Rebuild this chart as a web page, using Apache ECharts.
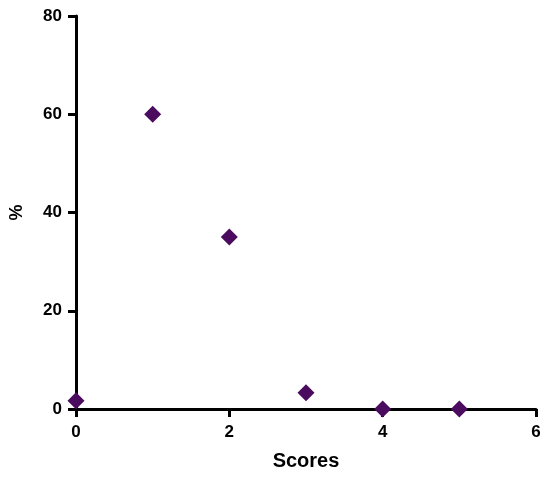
<!DOCTYPE html>
<html>
<head>
<meta charset="utf-8">
<script src="https://cdn.jsdelivr.net/npm/echarts@6/dist/echarts.min.js"></script>
<style>
  html, body { margin: 0; padding: 0; background: #fff; }
  #chart { width: 550px; height: 478px; }
</style>
</head>
<body>
<div id="chart"></div>
<script>
const scores = [0, 1, 2, 3, 4, 5]
const percents = [1.7, 60, 35, 3.3, 0, 0]
const xTicks = [0, 2, 4, 6]
const yTicks = [0, 20, 40, 60, 80]

const chart = echarts.init(document.getElementById('chart'))
const axisLine = { lineStyle: { color: '#000', width: 3 } }
const label = { color: '#000', fontSize: 17, fontWeight: 'bold', fontFamily: 'Liberation Sans, Arial' }

chart.setOption({
  animation: false,
  grid: { left: 76, right: 14, top: 16, bottom: 69, outerBoundsMode: 'none', containLabel: false },
  xAxis: {
    type: 'value',
    min: xTicks[0],
    max: xTicks[xTicks.length - 1],
    interval: 2,
    name: 'Scores',
    nameLocation: 'middle',
    nameGap: 42,
    nameTextStyle: { color: '#000', fontSize: 20, fontWeight: 'bold', fontFamily: 'Liberation Sans, Arial' },
    axisLine: axisLine,
    axisTick: { show: true, length: 8, lineStyle: { color: '#000', width: 3 } },
    axisLabel: Object.assign({ margin: 15 }, label),
    splitLine: { show: false }
  },
  yAxis: {
    type: 'value',
    min: yTicks[0],
    max: yTicks[yTicks.length - 1],
    interval: 20,
    name: '%',
    nameLocation: 'middle',
    nameGap: 50,
    nameRotate: 90,
    nameTextStyle: { color: '#000', fontSize: 18, fontWeight: 'bold', fontFamily: 'Liberation Sans, Arial' },
    axisLine: Object.assign({ show: true }, axisLine),
    axisTick: { show: true, length: 8, lineStyle: { color: '#000', width: 3 } },
    axisLabel: Object.assign({ margin: 14 }, label),
    splitLine: { show: false }
  },
  series: [{
    type: 'scatter',
    symbol: 'diamond',
    symbolSize: 17,
    itemStyle: { color: '#4b0b5e', opacity: 1 },
    data: scores.map((s, i) => [s, percents[i]])
  }]
})
</script>
</body>
</html>
